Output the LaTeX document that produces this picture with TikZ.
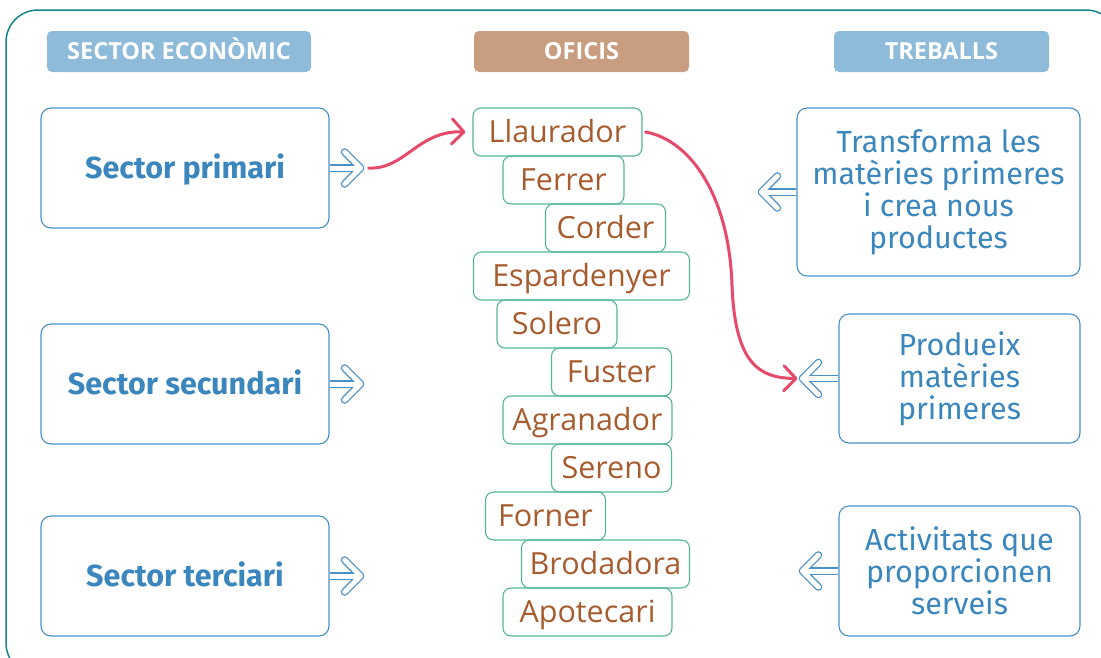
\documentclass[tikz,border=0pt]{standalone}
\usepackage{fontspec}
\setmainfont{Open Sans}
\newfontfamily\hdfont{Open Sans}
\newfontfamily\bluefont{Fira Sans}
\newfontfamily\brfont{Open Sans}
\usetikzlibrary{arrows.meta,calc}
\definecolor{frameteal}{HTML}{17858A}
\definecolor{hdblue}{HTML}{8DBBD9}
\definecolor{hdtan}{HTML}{C99D80}
\definecolor{bxblue}{HTML}{4A90C4}
\definecolor{txblue}{HTML}{3B87BD}
\definecolor{ofgreen}{HTML}{55B597}
\definecolor{ofbrown}{HTML}{A65C2E}
\definecolor{redline}{HTML}{E64A6B}
\newcommand\hollowarr[3]{%
  \foreach \cc/\ww in {bxblue/7.6pt,white/5pt}{%
    \draw[line width=\ww,color=\cc,line cap=butt] (#1) -- ($(#2)+(-3*#3,0)$);
    \draw[line width=\ww,color=\cc,line cap=round,line join=round]
      ($(#2)+(-16*#3,-16)$) -- (#2) -- ($(#2)+(-16*#3,16)$);
  }}
\begin{document}
\begin{tikzpicture}[x=1pt,y=-1pt,
  header/.style={rounded corners=5pt,minimum height=41pt,text=white,
    font=\hdfont\bfseries\fontsize{23.5}{28}\selectfont,inner sep=0pt,
    text height=16.8pt,text depth=0pt},
  leftbox/.style={draw=bxblue,line width=1.1pt,rounded corners=10pt,
    minimum width=288pt,minimum height=120pt,text=txblue,inner sep=0pt,
    text height=21pt,text depth=0pt,
    font=\bluefont\bfseries\fontsize{30.5}{34}\selectfont},
  rightbox/.style={draw=bxblue,line width=1.1pt,rounded corners=10pt,
    text=txblue,align=center,inner sep=0pt,
    font=\bluefont\fontsize{30.5}{32}\selectfont},
  ofici/.style={draw=ofgreen,line width=1.1pt,rounded corners=8pt,
    minimum height=48pt,text=ofbrown,inner sep=0pt,
    text height=21.5pt,text depth=0pt,
    font=\brfont\fontsize{30.5}{34}\selectfont},
  redarrow/.style={draw=redline,line width=3pt,line cap=round,
    -{Straight Barb[length=12pt,width=25pt,line width=3pt,round]}},
  redcurve/.style={draw=redline,line width=3pt,line cap=round}
]
\useasboundingbox (0,0) rectangle (1101,657);
\draw[frameteal,line width=1.5pt,rounded corners=32pt] (6,10) rectangle (1118,675);

% headers
\node[header,fill=hdblue,minimum width=264pt] (h1) at (179,51.5) {SECTOR ECONÒMIC};
\node[header,fill=hdtan,minimum width=215pt] (h2) at (581.5,51.5) {OFICIS};
\node[header,fill=hdblue,minimum width=215pt] (h3) at (941.5,51.5) {TREBALLS};

% left boxes
\node[leftbox] (lp) at (185,168) {Sector primari};
\node[leftbox] (ls) at (185,384) {Sector secundari};
\node[leftbox] (lt) at (185,576) {Sector terciari};

% right boxes
\node[rightbox,minimum width=283pt,minimum height=168pt] (r1) at (938.5,192)
  {Transforma les\\matèries primeres\\i crea nous\\productes};
\node[rightbox,minimum width=241pt,minimum height=129pt] (r2) at (959.5,378.5)
  {Produeix\\matèries\\primeres};
\node[rightbox,minimum width=241pt,minimum height=130pt] (r3) at (959.5,571)
  {Activitats que\\proporcionen\\serveis};

% oficis
\node[ofici,minimum width=169pt] (o1) at (557.5,132) {Llaurador};
\node[ofici,minimum width=121pt] (o2) at (563.5,180) {Ferrer};
\node[ofici,minimum width=120pt] (o3) at (605.5,228) {Corder};
\node[ofici,minimum width=216pt] (o4) at (581.5,276) {Espardenyer};
\node[ofici,minimum width=120pt] (o5) at (557,324) {Solero};
\node[ofici,minimum width=120pt] (o6) at (611.5,372) {Fuster};
\node[ofici,minimum width=169pt] (o7) at (587.5,420) {Agranador};
\node[ofici,minimum width=120pt] (o8) at (611.5,468) {Sereno};
\node[ofici,minimum width=120pt] (o9) at (545.5,516) {Forner};
\node[ofici,minimum width=168pt] (o10) at (605.5,564) {Brodadora};
\node[ofici,minimum width=169pt] (o11) at (587.5,612) {Apotecari};

% hollow arrows
\coordinate (t1) at ([xshift=31pt]lp.east);
\coordinate (t2) at ([xshift=31pt]ls.east);
\coordinate (t3) at ([xshift=31pt]lt.east);
\coordinate (t4) at ([xshift=-35pt]r1.west);
\coordinate (t5) at ([xshift=-36pt]r2.west);
\coordinate (t6) at ([xshift=-36pt]r3.west);
\hollowarr{lp.east}{t1}{1}
\hollowarr{ls.east}{t2}{1}
\hollowarr{lt.east}{t3}{1}
\hollowarr{r1.west}{t4}{-1}
\hollowarr{r2.west}{t5}{-1}
\hollowarr{r3.west}{t6}{-1}

% red connectors
\coordinate (s1) at ([xshift=8pt]t1);
\coordinate (e1) at ([xshift=-7pt]o1.west);
\draw[redarrow] (s1) .. controls (405,170) and (418,130) .. (e1);
\coordinate (s2) at ([xshift=3pt]o1.east);
\coordinate (m2) at (732,285);
\coordinate (e2) at ([xshift=-5pt]t5);
\draw[redcurve] (s2) .. controls (690,140) and (729,195) .. (m2);
\draw[redarrow] (m2) .. controls (735,365) and (760,378) .. (e2);
\end{tikzpicture}
\end{document}
